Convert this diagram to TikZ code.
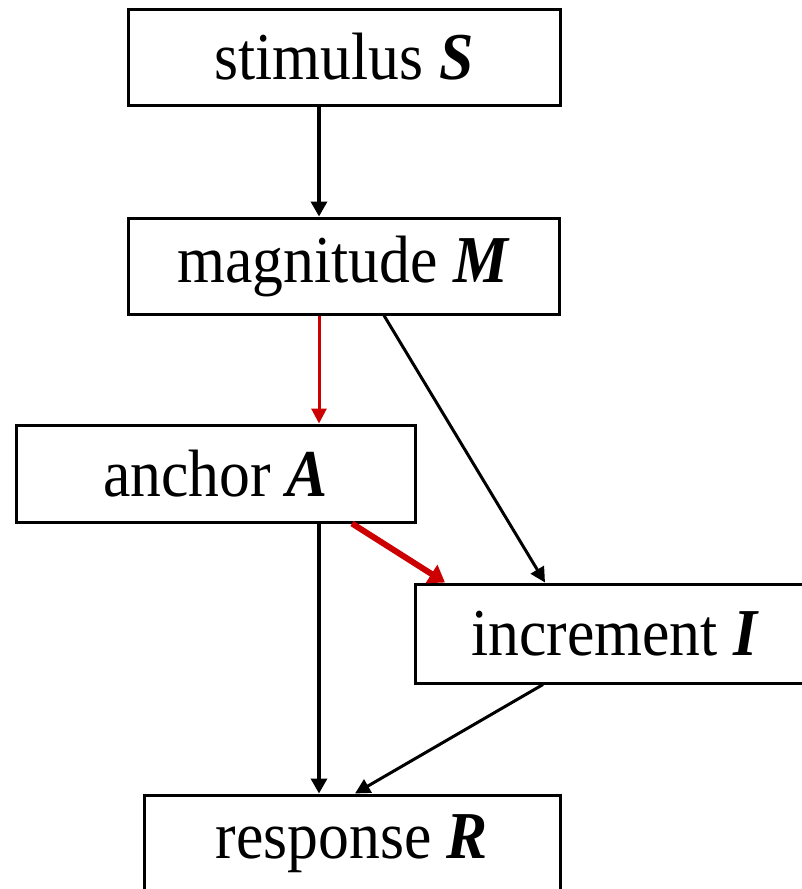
\documentclass[tikz,border=0pt]{standalone}
\usepackage{fontspec}
\setmainfont{Liberation Serif}[FakeStretch=0.92]
\usetikzlibrary{arrows.meta,calc}
\definecolor{arrred}{RGB}{204,0,0}
\begin{document}
\begin{tikzpicture}[x=1pt,y=-1pt,
  box/.style={draw=black,line width=3pt,rectangle,inner sep=0pt,font=\fontsize{67}{72}\selectfont},
  conn/.style={line width=3.4pt,-{Triangle[length=15pt,width=16pt]}},
  thin/.style={line width=3pt,-{Triangle[length=15pt,width=15pt]}},
  redthin/.style={thin,draw=arrred,fill=arrred},
  redthick/.style={line width=6pt,draw=arrred,-{Triangle[length=16pt,width=21pt]}}]
\useasboundingbox (0,0) rectangle (802,889);
\clip (0,0) rectangle (802,889);
\fill[white] (0,0) rectangle (802,889);
\node[box,minimum width=432pt,minimum height=96pt] (stim) at (344,57) {\raisebox{-3pt}{stimulus \textbf{\textit{S}}}};
\node[box,minimum width=431pt,minimum height=96pt] (mag) at (343.5,266) {\raisebox{-3pt}{magnitude \textbf{\textit{M}}}};
\node[box,minimum width=399pt,minimum height=97pt] (anc) at (215.5,473.5) {\raisebox{-3pt}{anchor \textbf{\textit{A}}}};
\node[box,minimum width=400pt,minimum height=99pt] (inc) at (615,633.5) {\raisebox{-3pt}{increment \textbf{\textit{I}}}};
\node[box,minimum width=416pt,minimum height=97pt] (resp) at (352,843.5) {\raisebox{-3pt}{response \textbf{\textit{R}}}};
\draw[conn] (319,0 |- stim.south) -- (319,0 |- mag.north);
\draw[redthin] (319,0 |- mag.south) -- (319,0 |- anc.north);
\draw[thin] (384,0 |- mag.south) -- (545,0 |- inc.north);
\draw[redthick] (352,0 |- anc.south) -- (445,0 |- inc.north);
\draw[conn] (319,0 |- anc.south) -- (319,0 |- resp.north);
\draw[thin] (543,0 |- inc.south) -- (355,0 |- resp.north);
\end{tikzpicture}
\end{document}
